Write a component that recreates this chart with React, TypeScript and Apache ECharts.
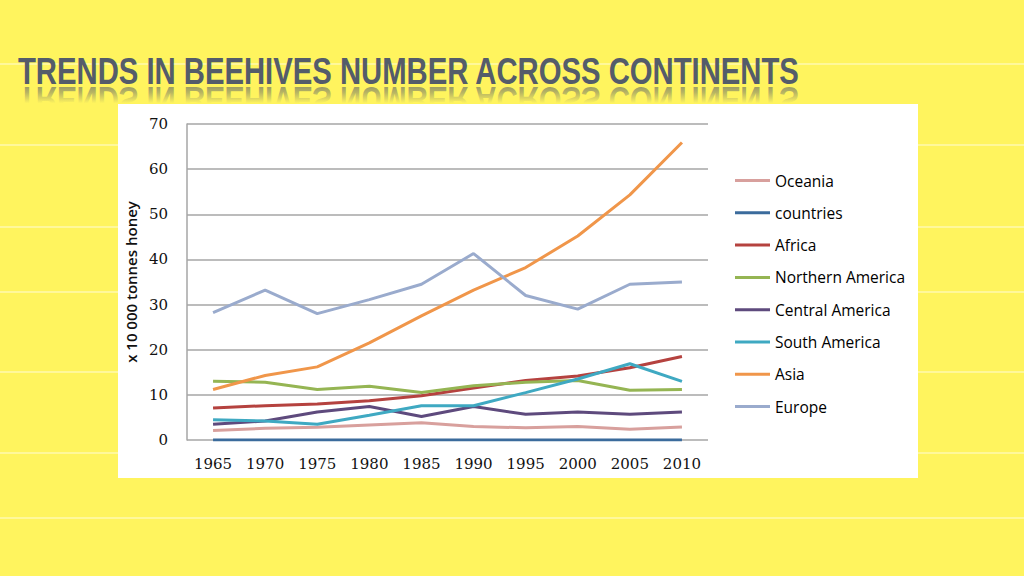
import React, { useEffect, useRef } from "react";
import * as echarts from "echarts";

const years = ["1965", "1970", "1975", "1980", "1985", "1990", "1995", "2000", "2005", "2010"];
const seriesNames = ["Oceania", "countries", "Africa", "Northern America", "Central America", "South America", "Asia", "Europe"];
const oceania = [2.1, 2.6, 2.8, 3.3, 3.8, 3.0, 2.7, 3.0, 2.4, 2.9];
const countries = [0, 0, 0, 0, 0, 0, 0, 0, 0, 0];
const africa = [7.1, 7.6, 8.0, 8.7, 9.8, 11.5, 13.2, 14.2, 16.0, 18.5];
const northernAmerica = [13.0, 12.8, 11.2, 11.9, 10.5, 12.0, 12.8, 13.2, 11.0, 11.2];
const centralAmerica = [3.5, 4.2, 6.2, 7.4, 5.2, 7.4, 5.7, 6.2, 5.7, 6.2];
const southAmerica = [4.5, 4.2, 3.5, 5.5, 7.6, 7.6, 10.5, 13.5, 16.9, 13.0];
const asia = [11.2, 14.3, 16.2, 21.5, 27.5, 33.2, 38.2, 45.2, 54.3, 65.9];
const europe = [28.2, 33.2, 28.0, 31.1, 34.5, 41.3, 32.0, 29.0, 34.5, 35.0];
const seriesValues = [oceania, countries, africa, northernAmerica, centralAmerica, southAmerica, asia, europe];
const seriesColors = ["#d8a09d", "#3b6b9c", "#b5423f", "#95b553", "#5e4a7d", "#3fa9c2", "#f0964a", "#9aabcd"];
const yTicks = { min: 0, max: 70, interval: 10 };

const titleText = "TRENDS IN BEEHIVES NUMBER ACROSS CONTINENTS";
const stripeYs = [64, 145, 227, 292, 372, 453, 518];

export default function App() {
  const ref = useRef<HTMLDivElement>(null);
  useEffect(() => {
    if (!ref.current) return;
    const chart = echarts.init(ref.current, undefined, { renderer: "svg" });
    const bg = "#fff45e";
    const titleStyle = {
      text: titleText,
      fontFamily: "'Liberation Sans', Arial, sans-serif",
      fontWeight: "bold",
      fontSize: 36,
      verticalAlign: "bottom",
      align: "left",
    };
    const graphics: any[] = [
      {
        type: "text",
        z: -6,
        x: 18,
        y: 82,
        scaleX: 0.813,
        scaleY: -1,
        style: { ...titleStyle, fill: "#545c6a", opacity: 0.6 },
      },
      {
        type: "rect",
        z: -5,
        shape: { x: 0, y: 86, width: 1024, height: 36 },
        style: {
          fill: new echarts.graphic.LinearGradient(0, 0, 0, 1, [
            { offset: 0, color: "rgba(255,244,94,0)" },
            { offset: 0.18, color: "rgba(255,244,94,0.3)" },
            { offset: 0.48, color: bg },
            { offset: 1, color: bg },
          ]),
        },
      },
      ...stripeYs.map((y) => ({
        type: "line",
        z: -4,
        shape: { x1: 0, y1: y, x2: 1024, y2: y },
        style: { stroke: "rgba(255,255,255,0.75)", lineWidth: 1 },
      })),
      {
        type: "text",
        z: -2,
        x: 18,
        y: 89,
        scaleX: 0.813,
        style: { ...titleStyle, fill: "#545c6a" },
      },
      {
        type: "rect",
        z: -1,
        shape: { x: 118, y: 104, width: 800, height: 374 },
        style: { fill: "#ffffff" },
      },
    ];

    chart.setOption({
      animation: false,
      backgroundColor: bg,
      graphic: graphics,
      grid: { left: 187, top: 124, width: 521, height: 316, containLabel: false },
      legend: {
        orient: "vertical",
        left: 735,
        top: 172.5,
        padding: 0,
        icon: "rect",
        itemWidth: 35,
        itemHeight: 3,
        itemGap: 16.3,
        data: seriesNames,
        textStyle: { fontFamily: "'Open Sans', sans-serif", fontSize: 15.5, color: "#000", lineHeight: 16 },
      },
      xAxis: {
        type: "category",
        data: years,
        boundaryGap: true,
        axisLine: { show: false },
        axisTick: { show: false },
        axisLabel: { interval: 0, fontFamily: "'DejaVu Serif', serif", fontSize: 15, color: "#111", margin: 16 },
      },
      yAxis: {
        type: "value",
        min: yTicks.min,
        max: yTicks.max,
        interval: yTicks.interval,
        name: "x 10 000 tonnes honey",
        nameLocation: "middle",
        nameGap: 45,
        nameTextStyle: { fontFamily: "'Open Sans', sans-serif", fontSize: 15, fontWeight: 600, color: "#111" },
        axisLine: { show: true, lineStyle: { color: "#a6a6a6", width: 1.5 } },
        axisTick: { show: false },
        splitLine: { lineStyle: { color: "#a6a6a6", width: 1.5 } },
        axisLabel: { fontFamily: "'DejaVu Serif', serif", fontSize: 15, color: "#111", margin: 19 },
      },
      series: seriesNames.map((name, i) => ({
        name,
        type: "line",
        data: seriesValues[i],
        showSymbol: false,
        symbol: "none",
        lineStyle: { width: 3, color: seriesColors[i] },
        itemStyle: { color: seriesColors[i] },
        z: i === 1 ? 3 : 2,
      })),
    });
    return () => chart.dispose();
  }, []);
  return <div ref={ref} style={{ position: "fixed", left: 0, top: 0, width: 1024, height: 576 }} />;
}
